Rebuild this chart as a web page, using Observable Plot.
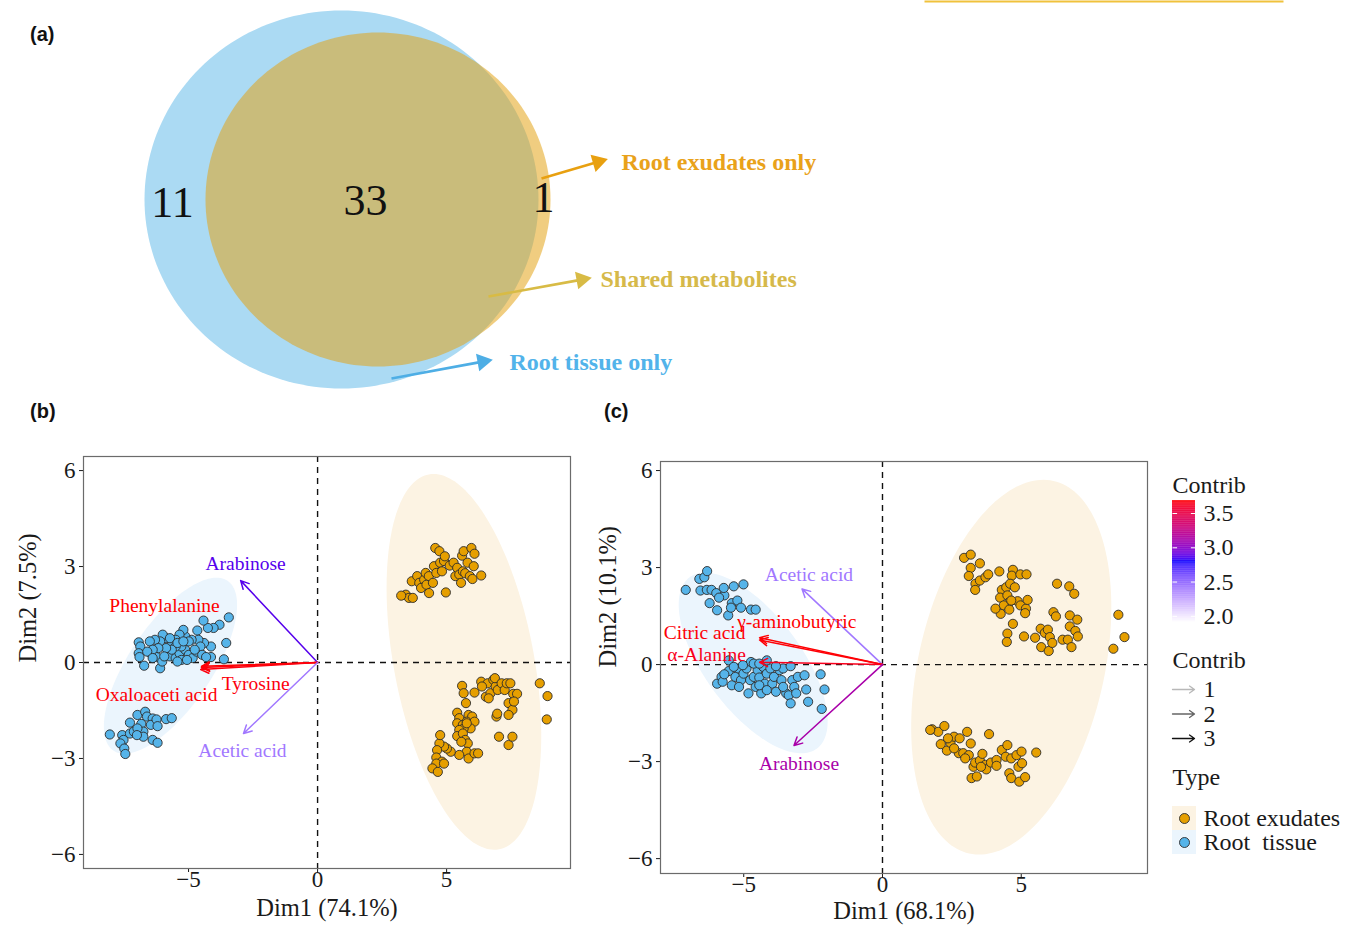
<!DOCTYPE html>
<html>
<head>
<meta charset="utf-8">
<script src="https://cdn.jsdelivr.net/npm/d3@7"></script>
<script src="https://cdn.jsdelivr.net/npm/@observablehq/plot@0.6"></script>
<style>
  html, body { margin: 0; padding: 0; background: #fff; }
  body { width: 1359px; height: 928px; position: relative; overflow: hidden; }
  .tag { position: absolute; font-family: "Liberation Sans", Arial, sans-serif; font-weight: bold; font-size: 20px; color: #111; }
  svg text { font-family: "Liberation Serif", "Times New Roman", serif !important; }
</style>
</head>
<body>
<div class="tag" style="left:30px; top:23px;">(a)</div>
<div class="tag" style="left:30px; top:400px;">(b)</div>
<div class="tag" style="left:604px; top:400px;">(c)</div>
<script>
// ================= DATA =================
// Panel (a): Venn diagram
const vennSets = ["Root tissue only", "Shared metabolites", "Root exudates only"];
const vennCounts = [11, 33, 1];

// Axis ticks and titles
const axisTicksX = [-5, 0, 5];
const axisTicksY = [-6, -3, 0, 3, 6];
const axisTitlesB = ["Dim1 (74.1%)", "Dim2 (7.5%)"];
const axisTitlesC = ["Dim1 (68.1%)", "Dim2 (10.1%)"];

// Legends
const contribTicks = [2.0, 2.5, 3.0, 3.5];
const contribRange = [1.91, 2.8, 3.69];
const arrowLegendValues = [1, 2, 3];
const typeNames = ["Root exudates", "Root tissue"];
const typeLabels = ["Root exudates", "Root\u00a0 tissue"];

// Panel (b) individuals [Dim1, Dim2]
const tissueB = [
  [-3.44,1.41],[-3.8,1.18],[-4.03,1.08],[-4.25,1.08],[-4.42,1.31],[-4.66,1.0],[-3.54,0.61],[-3.63,0.1],
  [-4.13,0.17],[-4.13,0.5],[-4.4,0.61],[-4.62,0.71],[-4.88,0.71],[-5.13,0.82],[-5.2,1.02],[-5.35,0.87],
  [-5.5,0.71],[-5.65,0.61],[-5.87,0.76],[-6.0,0.87],[-6.1,0.66],[-6.3,0.71],[-6.5,0.66],[-6.93,0.63],
  [-6.87,0.5],[-6.93,0.29],[-6.9,0.17],[-6.72,-0.1],[-6.46,0.29],[-6.24,0.17],[-6.1,-0.18],[-6.02,0.03],
  [-5.8,0.29],[-5.72,0.19],[-5.5,0.14],[-5.35,0.29],[-5.28,0.08],[-5.13,0.4],[-4.99,0.24],[-4.84,0.14],
  [-4.69,0.34],[-4.54,0.5],[-4.47,0.24],[-4.32,0.17],[-5.28,0.5],[-5.5,0.5],[-5.65,0.4],[-5.87,0.45],
  [-6.17,0.45],[-6.39,0.4],[-6.6,0.34],[-5.94,0.19],[-5.43,0.03],[-5.06,0.08],[-4.76,0.4],[-5.72,0.76],
  [-4.99,0.66],[-5.43,0.61],[-5.2,0.66],[-6.39,0.14],
  [-8.05,-2.25],[-7.57,-2.27],[-7.52,-2.42],[-7.64,-2.53],[-7.49,-2.69],[-7.45,-2.86],[-7.27,-2.22],
  [-7.12,-2.16],[-7.27,-1.88],[-6.98,-1.64],[-6.68,-1.54],[-6.61,-1.69],[-6.83,-1.92],[-6.75,-2.16],
  [-6.98,-2.06],[-6.75,-2.32],[-6.39,-1.75],[-6.46,-1.95],[-6.24,-1.78],[-6.2,-1.99],[-6.39,-2.42],
  [-6.2,-2.51],[-5.87,-1.77],[-5.65,-1.74],[-7.0,-2.27]
];
const exudatesB = [
  [3.42,2.12],[3.54,2.02],[3.69,2.02],[3.65,2.54],[3.86,2.7],[3.94,2.49],[4.01,2.33],[4.13,2.59],
  [4.19,2.8],[4.31,2.7],[4.22,2.43],[4.32,2.17],[4.47,2.49],[4.51,3.01],[4.6,2.8],[4.56,3.58],
  [4.72,3.48],[4.75,3.12],[4.82,2.85],[4.9,3.17],[4.97,2.19],[4.93,3.32],[5.12,3.03],[5.27,3.12],
  [5.34,2.7],[5.41,2.96],[5.49,2.75],[5.56,2.49],[5.63,2.85],[5.72,2.79],[5.6,3.34],[5.66,3.48],
  [5.81,3.12],[5.9,2.7],[5.96,3.58],[6.0,2.61],[6.08,3.4],[6.05,3.01],[6.34,2.72],[3.24,2.09],
  [5.6,-0.73],[5.66,-0.96],[6.08,-0.94],[6.34,-0.6],[6.59,-0.65],[6.52,-1.07],[6.7,-0.96],[6.81,-0.54],
  [6.9,-0.75],[6.87,-0.49],[6.98,-0.86],[7.13,-0.65],[7.25,-0.86],[7.33,-0.65],[7.47,-0.65],[7.58,-0.98],
  [7.73,-0.98],[7.4,-1.27],[7.55,-1.48],[7.4,-1.64],[6.93,-1.69],[6.96,-1.6],[7.03,-2.32],[7.4,-2.58],
  [7.55,-2.32],[8.61,-0.65],[8.91,-1.05],[8.88,-1.78],[5.75,-1.27],[5.41,-1.57],[5.49,-1.74],[5.41,-1.9],
  [5.63,-1.95],[5.85,-1.64],[5.99,-1.69],[5.78,-1.85],[6.08,-1.85],[5.93,-2.06],[5.66,-2.06],[5.49,-2.11],
  [5.41,-2.3],[5.63,-2.22],[5.72,-2.42],[5.82,-2.53],[5.57,-2.48],[5.78,-2.79],[5.85,-3.0],[6.08,-2.84],
  [6.22,-2.84],[5.49,-2.89],[5.16,-2.79],[5.01,-2.69],[4.9,-2.63],[4.72,-2.53],[4.75,-2.27],[4.63,-2.74],
  [4.6,-2.97],[4.82,-3.1],[4.6,-3.16],[4.45,-3.31],[4.66,-3.42],[4.9,-3.16],[5.78,-1.9],[6.37,-0.75],
  [6.63,-1.12],[7.61,-1.22]
];
// Panel (b) variables: arrow tip, contribution, label position
const loadingsB = [
  {name: "Arabinose",       x: -2.98, y: 2.56,  contrib: 2.87, lx: -2.79, ly: 3.09},
  {name: "Phenylalanine",   x: -4.5,  y: -0.12, contrib: 3.69, lx: -5.93, ly: 1.78},
  {name: "Oxaloaceti acid", x: -4.5,  y: -0.16, contrib: 3.68, lx: -6.24, ly: -1.0},
  {name: "Tyrosine",        x: -4.53, y: -0.22, contrib: 3.67, lx: -2.4,  ly: -0.66},
  {name: "Acetic acid",     x: -2.87, y: -2.22, contrib: 2.42, lx: -2.91, ly: -2.75}
];
// Confidence ellipses: centre and two conjugate semi-axis vectors
const ellipsesB = [
  {type: "Root exudates", cx: 5.67, cy: 0.02, ux: -1.36, uy: 5.86, vx: 2.67, vy: 0.40},
  {type: "Root tissue",   cx: -5.7, cy: -0.1, ux: 2.2,   uy: 2.66, vx: -1.35, vy: 0.7}
];

// Panel (c) individuals
const tissueC = [
  [-7.09,2.31],[-6.6,2.65],[-6.42,2.7],[-6.32,2.89],[-6.56,2.29],[-6.33,2.31],[-6.16,2.31],[-5.99,2.21],
  [-6.23,1.9],[-5.96,1.68],[-5.7,2.14],[-5.72,2.37],[-5.56,1.52],[-5.43,1.9],[-5.36,2.42],[-5.23,1.98],
  [-5.1,1.76],[-5.01,2.48],[-5.46,1.76],[-4.74,1.7],[-4.57,1.7],[-5.89,2.07],
  [-5.96,-0.59],[-5.8,-0.38],[-5.76,-0.53],[-5.54,-0.2],[-5.54,0.13],[-5.43,-0.64],[-5.3,-0.38],[-5.19,-0.12],
  [-5.1,-0.48],[-5.01,-0.28],[-4.9,-0.12],[-4.83,-0.89],[-4.77,-0.48],[-4.74,0.08],[-4.64,-0.38],[-4.57,-0.69],
  [-4.5,-0.17],[-4.44,-0.4],[-4.37,-0.89],[-4.3,-0.07],[-4.24,-0.59],[-4.17,-0.28],[-4.04,-0.12],[-3.97,-0.59],
  [-3.91,-0.38],[-3.84,-0.84],[-3.71,-0.17],[-3.64,-0.48],[-3.58,-0.12],[-3.47,-0.89],[-3.38,-0.95],[-3.31,-1.2],
  [-3.25,-0.48],[-3.18,-0.69],[-3.11,-0.89],[-3.05,-0.38],[-2.81,-0.33],[-2.75,-0.77],[-2.68,-1.15],[-2.23,-0.3],
  [-2.09,-0.77],[-2.19,-1.37],[-3.31,-0.05],[-3.84,-0.05],[-5.17,-0.69],[-4.64,0.03],[-5.03,-0.02],[-5.7,-0.3],
  [-5.36,-0.07],[-4.44,-0.64],[-4.17,-0.79],[-3.58,-0.69],[-4.17,0.13],[-4.44,0.03]
];
const exudatesC = [
  [2.94,3.3],[3.18,3.4],[3.51,3.13],[3.18,2.99],[3.11,2.74],[3.35,2.5],[3.34,2.31],[3.51,2.6],
  [3.71,2.7],[3.81,2.79],[4.21,2.88],[4.7,2.93],[4.66,2.75],[4.97,2.79],[5.19,2.79],[4.3,2.31],
  [4.46,2.39],[4.6,2.5],[4.24,2.07],[4.5,2.14],[4.57,1.93],[4.37,1.83],[4.26,1.57],[4.57,1.7],
  [4.87,1.96],[4.97,1.83],[5.17,1.73],[5.23,2.0],[5.14,1.59],[4.7,1.26],[4.5,0.96],[4.48,0.7],
  [5.1,0.87],[5.5,0.83],[5.7,1.11],[5.72,0.54],[5.85,0.98],[5.96,1.08],[6.03,0.85],[5.99,0.42],
  [6.12,0.67],[6.16,1.62],[6.25,1.49],[6.29,2.5],[6.49,0.77],[6.73,2.42],[6.91,2.19],[6.75,1.52],
  [6.68,0.77],[6.75,1.18],[6.81,0.54],[6.95,1.04],[7.02,1.39],[7.04,0.87],[8.32,0.49],[8.5,1.54],
  [8.72,0.85],[4.64,1.98],[4.77,2.39],[4.07,1.73],
  [1.79,-2.0],[2.01,-2.08],[2.23,-1.9],[1.72,-2.02],[2.1,-2.46],[2.32,-2.66],[2.45,-2.42],[2.58,-2.23],
  [2.78,-2.28],[2.75,-2.74],[2.91,-2.74],[3.05,-2.08],[3.11,-2.8],[3.18,-2.44],[3.28,-3.16],[3.34,-3.03],
  [3.21,-3.51],[3.4,-3.46],[3.51,-2.97],[3.6,-2.76],[3.71,-3.1],[3.74,-3.24],[3.84,-2.15],[3.91,-3.03],
  [4.11,-2.95],[4.11,-3.13],[4.3,-2.64],[4.5,-2.49],[4.44,-2.85],[4.64,-2.9],[4.57,-3.36],[4.64,-3.51],
  [4.83,-2.8],[4.9,-3.16],[5.01,-2.69],[5.03,-3.05],[4.93,-3.62],[5.14,-3.48],[5.54,-2.72],[2.58,-2.59],
  [2.36,-2.28],[2.98,-2.9],[3.55,-3.16]
];
const loadingsC = [
  {name: "Acetic acid",    x: -2.9,  y: 2.34,  contrib: 2.42, lx: -2.65, ly: 2.78},
  {name: "γ-aminobutyric", x: -4.43, y: 0.83,  contrib: 3.69, lx: -3.09, ly: 1.33},
  {name: "Citric acid",    x: -4.43, y: 0.76,  contrib: 3.68, lx: -6.41, ly: 0.99},
  {name: "α-Alanine",      x: -4.43, y: 0.07,  contrib: 3.64, lx: -6.34, ly: 0.31},
  {name: "Arabinose",      x: -3.19, y: -2.5,  contrib: 3.12, lx: -3.01, ly: -3.06}
];
const ellipsesC = [
  {type: "Root exudates", cx: 4.64,  cy: -0.08, ux: 1.52,  uy: 5.76, vx: 3.27, vy: -0.63},
  {type: "Root tissue",   cx: -4.66, cy: 0.05,  ux: -2.29, uy: 2.65, vx: 1.4,  vy: 0.88}
];

// ================= STYLE =================
const serif = '"Liberation Serif", "Times New Roman", serif';
const typeColor = {"Root exudates": "#e69f00", "Root tissue": "#56b4e9"};
const ellipseFill = {"Root exudates": "#fcf3e3", "Root tissue": "#ebf5fd"};
const contribColor = {type: "linear", domain: contribRange, range: ["white", "blue", "red"], interpolate: "lab"};

function place(node, left, top, tickSize) {
  node.style.position = "absolute";
  node.style.left = left + "px";
  node.style.top = top + "px";
  document.body.appendChild(node);
  node.querySelectorAll('[aria-label*="axis"] text, [aria-label*="tick"] text').forEach(t => {
    t.style.fontFamily = serif;
    t.style.fontSize = (tickSize || 24) + "px";
  });
}

function ellipsePoints(e) {
  return d3.range(0, 360, 2).map(a => {
    const t = a * Math.PI / 180;
    return {x: e.cx + e.ux * Math.cos(t) + e.vx * Math.sin(t),
            y: e.cy + e.uy * Math.cos(t) + e.vy * Math.sin(t)};
  });
}

// ================= PANEL (a) : Venn =================
(function venn() {
  const W = 1359, H = 400;
  const circles = [
    {cx: 341, cy: 199, rx: 197, ry: 189, fill: "#abdaf3", op: 1},
    {cx: 377.5, cy: 199, rx: 172.5, ry: 167, fill: "#e3a214", op: 0.54}
  ];
  const countPos = [[172, 202], [365, 200], [543, 197]];
  const arrows = [
    {from: [391, 378], to: [494, 359], color: "#4eaee5", text: "#52b3ea", label: [509, 362]},
    {from: [488, 296], to: [593, 277], color: "#d8bb45", text: "#d6b94a", label: [600, 279]},
    {from: [541, 178], to: [609, 158], color: "#e8a010", text: "#e9a21a", label: [621, 162]}
  ];
  const ellipse = c => d3.range(0, 360, 2).map(a => {
    const t = a * Math.PI / 180;
    return {x: c.cx + c.rx * Math.cos(t), y: c.cy + c.ry * Math.sin(t)};
  });
  const counts = vennCounts.map((n, i) => ({n, x: countPos[i][0], y: countPos[i][1]}));
  const arr = vennSets.map((s, i) => {
    const a = arrows[i];
    const dx = a.to[0] - a.from[0], dy = a.to[1] - a.from[1];
    const L = Math.hypot(dx, dy);
    return {name: s, x1: a.from[0], y1: a.from[1],
            x2: a.to[0] - dx / L * 16, y2: a.to[1] - dy / L * 16,
            hx: a.to[0] - dx / L * 12, hy: a.to[1] - dy / L * 12,
            rot: Math.atan2(dx, -dy) * 180 / Math.PI,
            color: a.color, text: a.text, lx: a.label[0], ly: a.label[1]};
  });
  const marks = [
    ...circles.map(c => Plot.line(ellipse(c), {x: "x", y: "y", fill: c.fill, fillOpacity: c.op, stroke: "none", curve: "linear-closed"})),
    Plot.text(counts, {x: "x", y: "y", text: d => String(d.n), fontSize: 44, fill: "#111"}),
    ...arr.map(a => Plot.link([a], {x1: "x1", y1: "y1", x2: "x2", y2: "y2", stroke: a.color, strokeWidth: 2.6})),
    ...arr.map(a => Plot.dot([a], {x: "hx", y: "hy", symbol: "triangle2", r: 8.5, rotate: "rot", fill: a.color, stroke: "none"})),
    ...arr.map(a => Plot.text([a], {x: "lx", y: "ly", text: "name", fill: a.text, fontSize: 24, fontWeight: "bold", textAnchor: "start"})),
    Plot.link([0], {x1: () => 924, x2: () => 1283, y1: () => 1, y2: () => 1, stroke: "#f0c23c", strokeWidth: 2})
  ];
  const p = Plot.plot({
    width: W, height: H, margin: 0,
    x: {domain: [0, W], range: [0, W], axis: null},
    y: {domain: [0, H], range: [0, H], axis: null},
    style: {fontFamily: serif, background: "transparent"},
    marks
  });
  place(p, 0, 0);
})();

// ================= PANELS (b) and (c) : biplots =================
function biplot(o) {
  return Plot.plot({
    width: o.width, height: o.height,
    marginLeft: o.ml, marginRight: o.mr, marginTop: o.mt, marginBottom: o.mb,
    style: {fontFamily: serif, fontSize: "23px", background: "transparent", color: "#1a1a1a"},
    x: {domain: o.xDomain, ticks: axisTicksX, tickSize: 4, tickPadding: -2, label: null},
    y: {domain: o.yDomain, ticks: axisTicksY, tickSize: 4, tickPadding: 4, label: null},
    color: contribColor,
    marks: [
      ...o.ellipses.map(e => Plot.line(ellipsePoints(e), {x: "x", y: "y", fill: ellipseFill[e.type], stroke: "none", curve: "linear-closed"})),
      Plot.ruleX([0], {stroke: "#111", strokeWidth: 1.4, strokeDasharray: "6,5"}),
      Plot.ruleY([0], {stroke: "#111", strokeWidth: 1.4, strokeDasharray: "6,5"}),
      Plot.dot(o.exudates, {x: d => d[0], y: d => d[1], r: 4.6, fill: typeColor["Root exudates"], stroke: "#2b2b2b", strokeWidth: 0.9}),
      Plot.dot(o.tissue, {x: d => d[0], y: d => d[1], r: 4.6, fill: typeColor["Root tissue"], stroke: "#2b2b2b", strokeWidth: 0.9}),
      Plot.arrow(o.loadings, {x1: () => 0, y1: () => 0, x2: "x", y2: "y", stroke: "contrib", strokeWidth: 1.5, headLength: 9, headAngle: 55}),
      Plot.text(o.loadings, {x: "lx", y: "ly", text: "name", fill: "contrib", fontSize: 19.5}),
      Plot.frame({stroke: "#6b6b6b", strokeWidth: 1.2}),
      Plot.text([o.titles[0]], {frameAnchor: "bottom", dy: o.xdy, text: d => d, fontSize: 24.5}),
      Plot.text([o.titles[1]], {frameAnchor: "left", dx: o.ydx, rotate: -90, text: d => d, fontSize: 24.5})
    ]
  });
}

place(biplot({
  width: 590, height: 498, ml: 83, mr: 20, mt: 26, mb: 60,
  xDomain: [-9.07, 9.8], yDomain: [-6.44, 6.44],
  tissue: tissueB, exudates: exudatesB, loadings: loadingsB, ellipses: ellipsesB,
  titles: axisTitlesB, xdy: 47, ydx: -55
}), 0, 430, 23);

place(biplot({
  width: 580, height: 498, ml: 70, mr: 23, mt: 31, mb: 55,
  xDomain: [-8.0, 9.55], yDomain: [-6.46, 6.28],
  tissue: tissueC, exudates: exudatesC, loadings: loadingsC, ellipses: ellipsesC,
  titles: axisTitlesC, xdy: 45.5, ydx: -52
}), 590, 430, 23);

// ================= LEGEND =================
(function legend() {
  const W = 199, H = 420;
  const rowArrow = 24.5, rowType = 24;
  const p = Plot.plot({
    width: W, height: H, margin: 0,
    x: {domain: [0, W], range: [0, W], axis: null},
    y: {domain: [0, H], range: [0, H], axis: null},
    color: {type: "linear", domain: [1, 3], range: ["#b8b8b8", "#111111"]},
    style: {fontFamily: serif, fontSize: "24px", background: "transparent", color: "#1a1a1a"},
    marks: [
      Plot.text(["Contrib"], {x: () => 12, y: () => 25, text: d => d, textAnchor: "start", fontSize: 24}),
      Plot.text(["Contrib"], {x: () => 12, y: () => 200, text: d => d, textAnchor: "start", fontSize: 24}),
      Plot.arrow(arrowLegendValues, {x1: () => 12, x2: () => 34, y1: (d, i) => 229 + i * rowArrow, y2: (d, i) => 229 + i * rowArrow, stroke: d => d, strokeWidth: 1.3, headLength: 7, headAngle: 70}),
      Plot.text(arrowLegendValues, {x: () => 43, y: (d, i) => 229 + i * rowArrow, text: d => String(d), textAnchor: "start", fontSize: 24}),
      Plot.text(["Type"], {x: () => 12, y: () => 317, text: d => d, textAnchor: "start", fontSize: 24}),
      ...typeNames.map((t, i) => Plot.rect([t], {x1: () => 12, x2: () => 36, y1: () => 346 + i * rowType, y2: () => 370 + i * rowType, fill: ellipseFill[t]})),
      ...typeNames.map((t, i) => Plot.dot([t], {x: () => 24, y: () => 358 + i * rowType, r: 5, fill: typeColor[t], stroke: "#2b2b2b", strokeWidth: 0.9})),
      Plot.text(typeLabels, {x: () => 43, y: (d, i) => 358 + i * rowType, text: d => d, textAnchor: "start", fontSize: 24})
    ]
  });
  place(p, 1160, 460);

  // colour bar
  const step = 0.01;
  const steps = d3.range(contribRange[0], contribRange[2], step);
  const bar = Plot.plot({
    width: 90, height: 142, marginLeft: 12, marginRight: 55, marginTop: 10, marginBottom: 10,
    style: {fontFamily: serif, fontSize: "24px", background: "transparent", color: "#1a1a1a"},
    x: {domain: [0, 1], axis: null},
    y: {domain: [contribRange[0], contribRange[2]], ticks: contribTicks, tickFormat: ".1f", tickSize: 0, tickPadding: 8, axis: "right", label: null},
    color: contribColor,
    marks: [
      Plot.rect(steps, {x1: () => 0, x2: () => 1, y1: d => d, y2: d => Math.min(contribRange[2], d + step * 1.3), fill: d => d + step / 2}),
      Plot.link(contribTicks, {x1: () => 0, x2: () => 0.2, y1: d => d, y2: d => d, stroke: "white", strokeWidth: 1}),
      Plot.link(contribTicks, {x1: () => 0.8, x2: () => 1, y1: d => d, y2: d => d, stroke: "white", strokeWidth: 1})
    ]
  });
  place(bar, 1160, 490);
})();
</script>
</body>
</html>
